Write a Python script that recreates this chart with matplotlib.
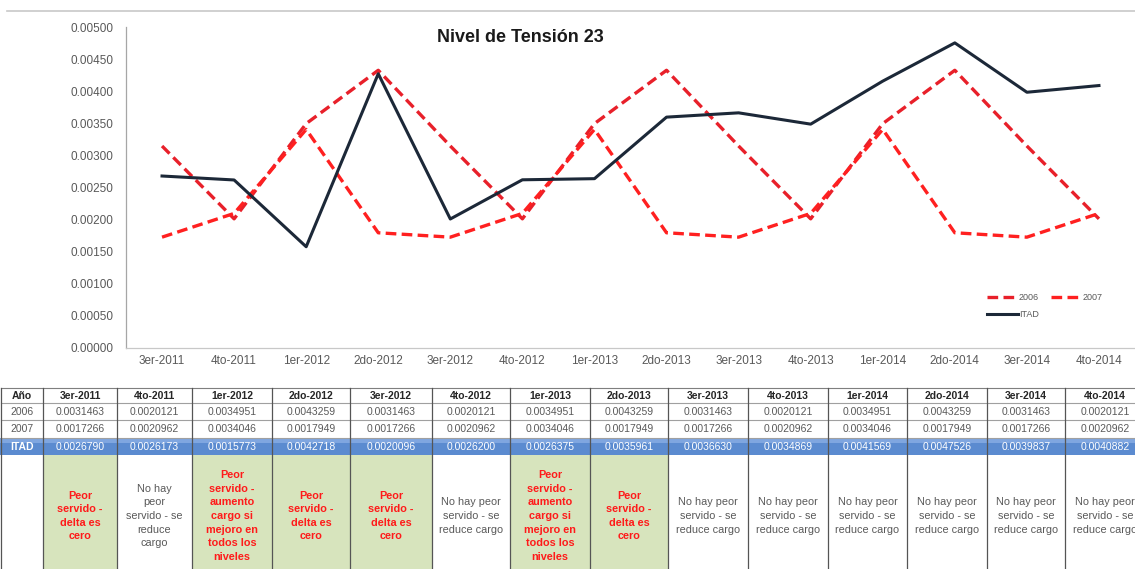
import matplotlib
matplotlib.use("Agg")
import matplotlib.pyplot as plt
from matplotlib.patches import Rectangle

plt.rcParams['font.family'] = ['Liberation Sans', 'DejaVu Sans']

# ---------------- data ----------------
periods = ["3er-2011", "4to-2011", "1er-2012", "2do-2012", "3er-2012", "4to-2012",
           "1er-2013", "2do-2013", "3er-2013", "4to-2013", "1er-2014", "2do-2014",
           "3er-2014", "4to-2014"]
serie_2006 = [0.0031463, 0.0020121, 0.0034951, 0.0043259, 0.0031463, 0.0020121, 0.0034951,
              0.0043259, 0.0031463, 0.0020121, 0.0034951, 0.0043259, 0.0031463, 0.0020121]
serie_2007 = [0.0017266, 0.0020962, 0.0034046, 0.0017949, 0.0017266, 0.0020962, 0.0034046,
              0.0017949, 0.0017266, 0.0020962, 0.0034046, 0.0017949, 0.0017266, 0.0020962]
serie_itad = [0.0026790, 0.0026173, 0.0015773, 0.0042718, 0.0020096, 0.0026200, 0.0026375,
              0.0035961, 0.0036630, 0.0034869, 0.0041569, 0.0047526, 0.0039837, 0.0040882]
row_labels = ["2006", "2007", "ITAD"]
title = "Nivel de Tensión 23"

note_delta = "Peor\nservido -\ndelta es\ncero"
note_aumento = "Peor\nservido -\naumento\ncargo si\nmejoro en\ntodos los\nniveles"
note_reduce5 = "No hay\npeor\nservido - se\nreduce\ncargo"
note_reduce3 = "No hay peor\nservido - se\nreduce cargo"
notes = [note_delta, note_reduce5, note_aumento, note_delta, note_delta, note_reduce3,
         note_aumento, note_delta, note_reduce3, note_reduce3, note_reduce3, note_reduce3,
         note_reduce3, note_reduce3]
peor = [True, False, True, True, True, False, True, True, False, False, False, False,
        False, False]

# ---------------- figure ----------------
W, H = 1135, 569
fig = plt.figure(figsize=(W / 100, H / 100), dpi=100)
fig.patch.set_facecolor('white')

# table / frame layer in pixel coordinates
tax = fig.add_axes([0, 0, 1, 1])
tax.set_xlim(0, W)
tax.set_ylim(H, 0)
tax.axis('off')

# chart frame (top edge visible)
tax.plot([7, W], [11, 11], color='#c8c8c8', lw=1.2)

# chart axes
ax = fig.add_axes([126 / W, 1 - 348 / H, (W - 126) / W, (348 - 27) / H])
ax.set_facecolor('none')
x = list(range(len(periods)))
l06, = ax.plot(x, serie_2006, color='#e8202a', lw=2.4, dashes=(3.2, 1.6), label='2006')
l07, = ax.plot(x, serie_2007, color='#ff2020', lw=2.4, dashes=(3.2, 1.6), label='2007')
lit, = ax.plot(x, serie_itad, color='#1c2838', lw=2.2, label='ITAD')
ax.set_xlim(-0.5, len(periods) - 0.5)
ax.set_ylim(0, 0.005)
ax.set_yticks([i * 0.0005 for i in range(11)])
ax.set_yticklabels(["%.5f" % (i * 0.0005) for i in range(11)])
ax.set_xticks(x)
ax.set_xticklabels(periods)
ax.tick_params(axis='both', length=0, labelsize=8.5, labelcolor='#595959')
ax.tick_params(axis='y', pad=9)
ax.tick_params(axis='x', pad=5)
for s in ['top', 'right']:
    ax.spines[s].set_visible(False)
ax.spines['left'].set_color('#a6a6a6')
ax.spines['bottom'].set_color('#c8c8c8')
ax.spines['left'].set_linewidth(0.9)
ax.spines['bottom'].set_linewidth(0.9)

fig.text(520 / W, 1 - 38 / H, title, ha='center', va='center', fontsize=13,
         fontweight='bold', color='#1a1a1a')

leg = fig.legend([l06, lit, l07], ['2006', 'ITAD', '2007'], ncol=2,
                 loc='upper left', bbox_to_anchor=(987 / W, 1 - 293 / H),
                 frameon=False, fontsize=6.5, handlelength=3.4, columnspacing=1.3,
                 handletextpad=0.15, labelspacing=0.9, borderaxespad=0, borderpad=0)
for t in leg.get_texts():
    t.set_color('#595959')

# ---------------- table ----------------
col_edges = [1, 43, 117, 192, 272, 350, 432, 510, 590, 668, 748, 828, 907, 987, 1065, 1145]
row_edges = [388, 403, 420, 438, 455, 580]

# backgrounds
tax.add_patch(Rectangle((0, row_edges[3]), W, row_edges[4] - row_edges[3],
                        facecolor='#5b8bd0', edgecolor='none'))
tax.add_patch(Rectangle((0, row_edges[3]), W, 5, facecolor='#7fa6e0', edgecolor='none'))
for j in range(len(periods)):
    if peor[j]:
        tax.add_patch(Rectangle((col_edges[j + 1], row_edges[4]),
                                col_edges[j + 2] - col_edges[j + 1], row_edges[5] - row_edges[4],
                                facecolor='#d7e4bd', edgecolor='none'))

# grid lines
for yy in row_edges[:4]:
    tax.plot([1, W], [yy, yy], color='#7f7f7f' if yy == 388 else '#a0a0a0', lw=0.8)
for xx in col_edges:
    tax.plot([xx, xx], [row_edges[0], row_edges[5]], color='#555555', lw=0.9)


def cx(j):
    return (col_edges[j] + col_edges[j + 1]) / 2


def cy(i):
    return (row_edges[i] + row_edges[i + 1]) / 2


tax.text(cx(0), cy(0), "Año", ha='center', va='center', fontsize=7.5,
         fontweight='bold', color='#262626')
for j, p in enumerate(periods):
    tax.text(cx(j + 1), cy(0), p, ha='center', va='center', fontsize=7.5,
             fontweight='bold', color='#262626')

series = [serie_2006, serie_2007, serie_itad]
for i, (lab, ser) in enumerate(zip(row_labels, series)):
    is_itad = lab == 'ITAD'
    col = 'white' if is_itad else '#595959'
    tax.text(cx(0), cy(i + 1), lab, ha='center', va='center', fontsize=7.5,
             color=col, fontweight='bold' if is_itad else 'normal')
    for j, v in enumerate(ser):
        tax.text(cx(j + 1), cy(i + 1), "%.7f" % v, ha='center', va='center',
                 fontsize=7.5, color=col)

for j, (n, p) in enumerate(zip(notes, peor)):
    tax.text(cx(j + 1), 516, n, ha='center', va='center', fontsize=7.8,
             linespacing=1.45, color='#ff1a1a' if p else '#595959',
             fontweight='bold' if p else 'normal')

fig.savefig('out.png', dpi=100)
